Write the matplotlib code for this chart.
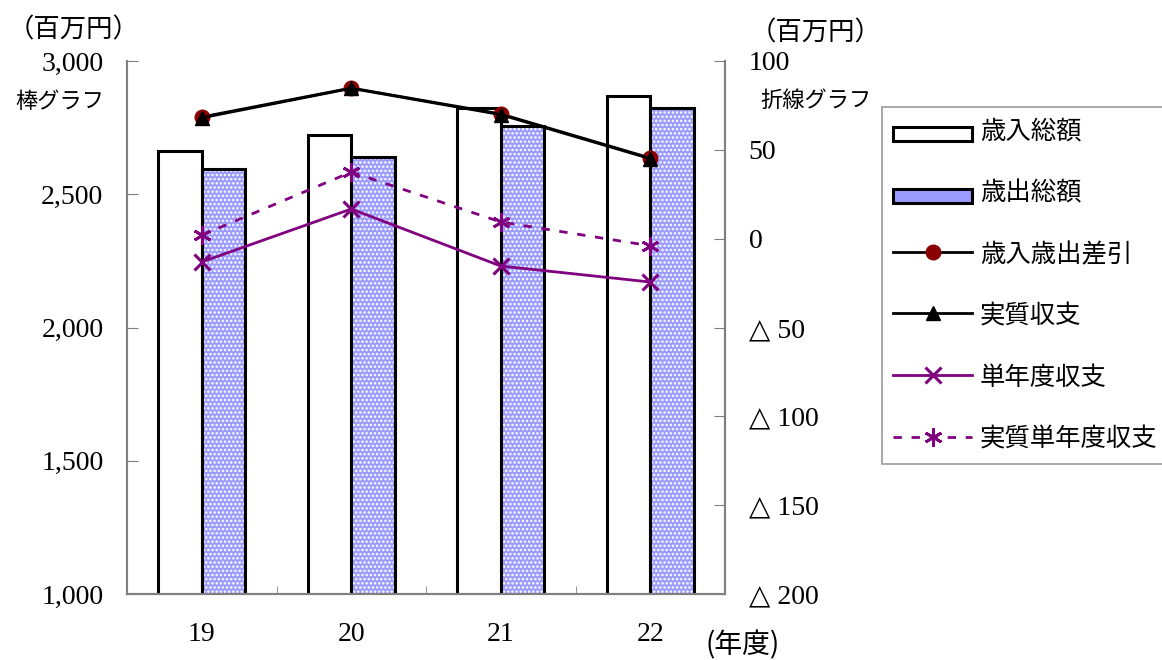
import numpy as np
import matplotlib
matplotlib.use('Agg')
import matplotlib.pyplot as plt
from matplotlib.ticker import FixedLocator, FuncFormatter

plt.rcParams['font.family'] = ['Liberation Serif', 'DejaVu Serif', 'Noto Sans CJK JP']
plt.rcParams['hatch.linewidth'] = 1.2

# データ
years = ['19', '20', '21', '22']
revenue = [2662, 2722, 2824, 2869]        # 歳入総額
expenditure = [2595, 2640, 2756, 2824]    # 歳出総額
balance = [68.5, 84.8, 70.2, 45.4]        # 歳入歳出差引
real_balance = [68.0, 84.6, 69.8, 45.0]   # 実質収支
single_year = [-13.1, 16.7, -15.4, -24.4]  # 単年度収支
real_single_year = [2.0, 37.5, 9.4, -4.0]  # 実質単年度収支

left_ticks = [1000, 1500, 2000, 2500, 3000]
right_ticks = [-200, -150, -100, -50, 0, 50, 100]

JP = ['Noto Sans CJK JP', 'DejaVu Sans']
grey = '#808080'
blue = '#9B9BFF'

fig = plt.figure(figsize=(11.62, 6.6), dpi=100)
ax = fig.add_axes([127 / 1162, 66 / 660, 598 / 1162, 533 / 660])
ax2 = ax.twinx()

x = np.arange(len(years))
w = 0.29

# 棒グラフ
b1 = ax.bar(x - w / 2, revenue, w, color='white', edgecolor='black', linewidth=2.2, zorder=2)
ax.bar(x + w / 2, expenditure, w, color=blue, edgecolor='white', hatch='....', linewidth=0, zorder=2)
b2 = ax.bar(x + w / 2, expenditure, w, color='none', edgecolor='black', linewidth=2.2, zorder=3)

ax.set_xlim(-0.5, 3.5)
ax.set_ylim(1000, 3000)
ax.yaxis.set_major_locator(FixedLocator(left_ticks))
ax.yaxis.set_major_formatter(FuncFormatter(lambda v, p: f'{int(v):,}'))
ax.set_xticks(x)
ax.set_xticklabels(years)
ax.xaxis.set_minor_locator(FixedLocator([0.5, 1.5, 2.5]))
ax.tick_params(axis='x', which='major', length=0, pad=20, labelsize=20)
ax.tick_params(axis='x', which='minor', direction='in', length=6, color=grey)
ax.tick_params(axis='y', direction='in', length=8, color=grey, labelsize=20, pad=17)

# 折線グラフ
l1, = ax2.plot(x, balance, color='black', lw=2, marker='o', ms=10.5, mfc='#8B0000', mec='#8B0000', zorder=4)
l2, = ax2.plot(x, real_balance, color='black', lw=2, marker='^', ms=10.5, mfc='black', mec='black', zorder=5)
l3, = ax2.plot(x, single_year, color='#800080', lw=2, marker='x', ms=11, mew=2.2, zorder=4)
l4, = ax2.plot(x, real_single_year, color='#800080', lw=2, ls=(0, (3, 3.5)), marker=(6, 2, 0), ms=13, mew=2, zorder=4)
ax2.set_ylim(-200, 100)
ax2.yaxis.set_major_locator(FixedLocator(right_ticks))
ax2.yaxis.set_major_formatter(FuncFormatter(lambda v, p: f'△ {abs(int(v))}' if v < 0 else f'{int(v)}'))
ax2.tick_params(axis='y', direction='in', length=8, color=grey, labelsize=20, pad=17)
ax.set_zorder(ax2.get_zorder() - 1)
ax.patch.set_visible(False)

for a in (ax, ax2):
    a.spines['top'].set_visible(False)
    for s in ('left', 'right', 'bottom'):
        a.spines[s].set_color(grey)
        a.spines[s].set_linewidth(1.5)

# 単位など
fig.text(8 / 1162, 1 - 30 / 660, '（百万円）', family=JP, fontsize=19, va='center')
fig.text(15 / 1162, 1 - 102 / 660, '棒グラフ', family=JP, fontsize=16, va='center')
fig.text(750 / 1162, 1 - 33 / 660, '（百万円）', family=JP, fontsize=19, va='center')
fig.text(760 / 1162, 1 - 100 / 660, '折線グラフ', family=JP, fontsize=16, va='center')
fig.text(706 / 1162, 1 - 645 / 660, '(年度)', family=JP, fontsize=20, va='center')

leg = fig.legend([b1, b2, l1, l2, l3, l4],
                 ['歳入総額', '歳出総額', '歳入歳出差引', '実質収支', '単年度収支', '実質単年度収支'],
                 loc='upper left', bbox_to_anchor=(882 / 1162, 1 - 107 / 660),
                 prop={'family': JP, 'size': 18.3}, frameon=True, fancybox=False,
                 edgecolor=grey, handlelength=3.1, handleheight=1.0,
                 labelspacing=1.4, borderpad=0.45, borderaxespad=0, handletextpad=0.3)
leg.get_frame().set_linewidth(1.2)
for h in leg.legend_handles[:2]:
    h.set_height(10)
leg.legend_handles[1].set_facecolor(blue)

fig.savefig('out.png', dpi=100)
